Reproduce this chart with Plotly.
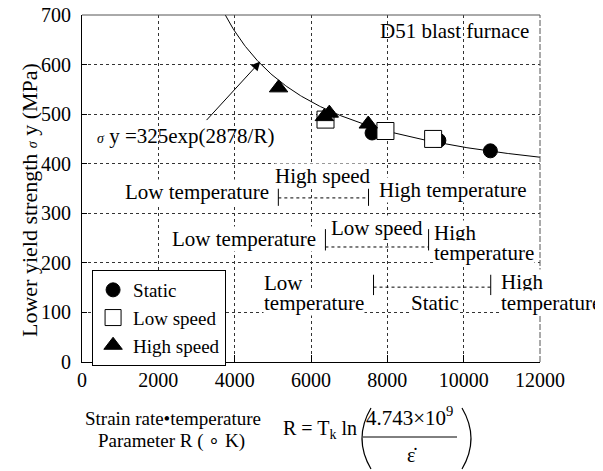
import numpy as np
import plotly.graph_objects as go

# ---- data ----
static_R = [7600, 9350, 10700]
static_sy = [462, 447, 426]
low_R = [6380, 7950, 9200]
low_sy = [489, 466, 450]
high_R = [5150, 6350, 6480, 7500]
high_sy = [553, 495, 502, 480]

fit_A = 325.0      # sigma_y = A * exp(B / R)
fit_B = 2878.0
fit_R_range = [3700, 12000]

x_ticks = [0, 2000, 4000, 6000, 8000, 10000, 12000]
y_ticks = [0, 100, 200, 300, 400, 500, 600, 700]

FONT = "Liberation Serif"
OFF = 8                      # page body margin
W, H = 603 - OFF, 471 - OFF
PL, PT, PR, PB = 82, 15, 540, 362   # plot box in page pixels
ML, MT = PL - OFF, PT - OFF
PW, PH = PR - PL, PB - PT
MR, MB = W - ML - PW, H - MT - PH


def px(xp):
    return (xp - PL) / PW


def py(yp):
    return (PB - yp) / PH


fit_R = np.linspace(fit_R_range[0], fit_R_range[1], 300)
fit_sy = fit_A * np.exp(fit_B / fit_R)

fig = go.Figure()
fig.add_trace(go.Scatter(x=fit_R, y=fit_sy, mode="lines",
                         line=dict(color="black", width=1), showlegend=False,
                         hoverinfo="skip"))
fig.add_trace(go.Scatter(x=static_R, y=static_sy, mode="markers", name="Static",
                         marker=dict(symbol="circle", size=14, color="black",
                                     line=dict(color="black", width=1))))
fig.add_trace(go.Scatter(x=low_R, y=low_sy, mode="markers", name="Low speed",
                         marker=dict(symbol="square", size=17, color="white",
                                     line=dict(color="black", width=1))))
fig.add_trace(go.Scatter(x=high_R, y=high_sy, mode="markers", name="High speed",
                         marker=dict(symbol="triangle-up", size=16, color="black",
                                     line=dict(color="black", width=1))))

ann = []


def txt(x, y, s, xanchor="center", size=21, xref="x", yref="y", bg="white", **kw):
    ann.append(dict(x=x, y=y, xref=xref, yref=yref, text=s, showarrow=False,
                    xanchor=xanchor, yanchor="middle", bgcolor=bg,
                    font=dict(family=FONT, size=size, color="black"), borderpad=0, **kw))


# band labels
txt(4934, 343, "Low temperature", "right")
txt(6325, 376, "High speed")
txt(7743, 347, "High temperature", "left")
txt(6168, 248, "Low temperature", "right")
txt(7717, 271, "Low speed")
txt(9186, 260, "High", "left")
txt(9186, 219, "temperature", "left")
txt(4750, 159, "Low", "left")
txt(4750, 119, "temperature", "left")
txt(9239, 119, "Static")
txt(10945, 161, "High", "left")
txt(10945, 119, "temperature", "left")

txt(11750, 667, "D51 blast furnace", "right", bg=None)
txt(367, 455, "<span style='font-size:14px'><i>σ</i></span> y =325exp(2878/R)", "left", bg=None)

# arrow to curve
ann.append(dict(x=4672, y=606, ax=3228, ay=485, xref="x", yref="y", axref="x", ayref="y",
                text="", showarrow=True, arrowhead=2, arrowsize=1.8, arrowwidth=1,
                arrowcolor="black", standoff=0))

# y title
ann.append(dict(x=px(29), y=py(200), xref="paper", yref="paper", textangle=-90,
                text="Lower yield strength <span style='font-size:14px'><i>σ</i></span> y (MPa)",
                showarrow=False, font=dict(family=FONT, size=22, color="black"),
                xanchor="center", yanchor="middle"))

# x title + formula
txt(px(173), py(418), "Strain rate•temperature", xref="paper", yref="paper", bg=None, size=19)
txt(px(171), py(441), "Parameter R ( ∘ K)", xref="paper", yref="paper", bg=None, size=19)
txt(px(358), py(430), "R = T<sub>k</sub> ln", "right", xref="paper", yref="paper", bg=None, size=20)
txt(px(409), py(417), "4.743×10<sup>9</sup>", xref="paper", yref="paper", bg=None, size=21)
txt(px(412), py(455), "ε̇", xref="paper", yref="paper", bg=None, size=20)

shapes = []


def seg(x0, y0, x1, y1, dash="solid"):
    shapes.append(dict(type="line", x0=x0, y0=y0, x1=x1, y1=y1, xref="x", yref="y",
                       line=dict(color="black", width=1, dash=dash), layer="above"))


# band brackets
for (xl, xr, yb, yt, yd) in [(5144, 7507, 315, 350, 331),
                             (6378, 9081, 225, 268, 232),
                             (7638, 10709, 135, 176, 151)]:
    seg(xl, yb, xl, yt)
    seg(xr, yb, xr, yt)
    seg(xl, yd, xr, yd, "dot")

# top and right frame (thin grey)
shapes.append(dict(type="line", x0=0, x1=1, y0=1, y1=1, xref="paper", yref="paper",
                   line=dict(color="#555", width=1)))
shapes.append(dict(type="line", x0=1, x1=1, y0=0, y1=1, xref="paper", yref="paper",
                   line=dict(color="#555", width=1, dash="6px,2px")))

# fraction bar
shapes.append(dict(type="line", x0=px(363), x1=px(457), y0=py(437), y1=py(437),
                   xref="paper", yref="paper", line=dict(color="black", width=1)))


# big thin parentheses drawn as curves
def paren(x_end, x_mid, y_top, y_bot):
    ym = (y_top + y_bot) / 2
    return (f"M {px(x_end)},{py(y_top)} Q {px(x_mid)},{py(ym)} {px(x_end)},{py(y_bot)}")


for path in [paren(371, 353, 408, 469), paren(462, 480, 408, 469)]:
    shapes.append(dict(type="path", path=path, xref="paper", yref="paper",
                       line=dict(color="black", width=1.2)))

fig.update_layout(
    width=W, height=H,
    margin=dict(l=ML, r=MR, t=MT, b=MB, autoexpand=False),
    paper_bgcolor="white", plot_bgcolor="white",
    font=dict(family=FONT, size=20, color="black"),
    annotations=ann, shapes=shapes,
    legend=dict(x=0.022, y=py(270), xanchor="left", yanchor="top",
                bordercolor="black", borderwidth=1, bgcolor="white",
                font=dict(family=FONT, size=19, color="black"),
                itemsizing="trace", tracegroupgap=0),
)
fig.update_xaxes(range=[0, 12000], tickvals=x_ticks, ticktext=[str(v) for v in x_ticks],
                 showline=True, linecolor="black", linewidth=1,
                 ticks="inside", ticklen=7, tickcolor="black",
                 showgrid=True, gridcolor="#333", griddash="dot", gridwidth=1,
                 zeroline=False, tickfont=dict(family=FONT, size=20),
                 ticklabeloverflow="allow")
fig.update_yaxes(range=[0, 700], tickvals=y_ticks, ticktext=[str(v) for v in y_ticks],
                 showline=True, linecolor="black", linewidth=1,
                 ticks="inside", ticklen=5, tickcolor="black",
                 showgrid=True, gridcolor="#333", griddash="dot", gridwidth=1,
                 zeroline=False, tickfont=dict(family=FONT, size=20), ticklabelstandoff=6,
                 ticklabeloverflow="allow")

fig.write_html("out.html")
